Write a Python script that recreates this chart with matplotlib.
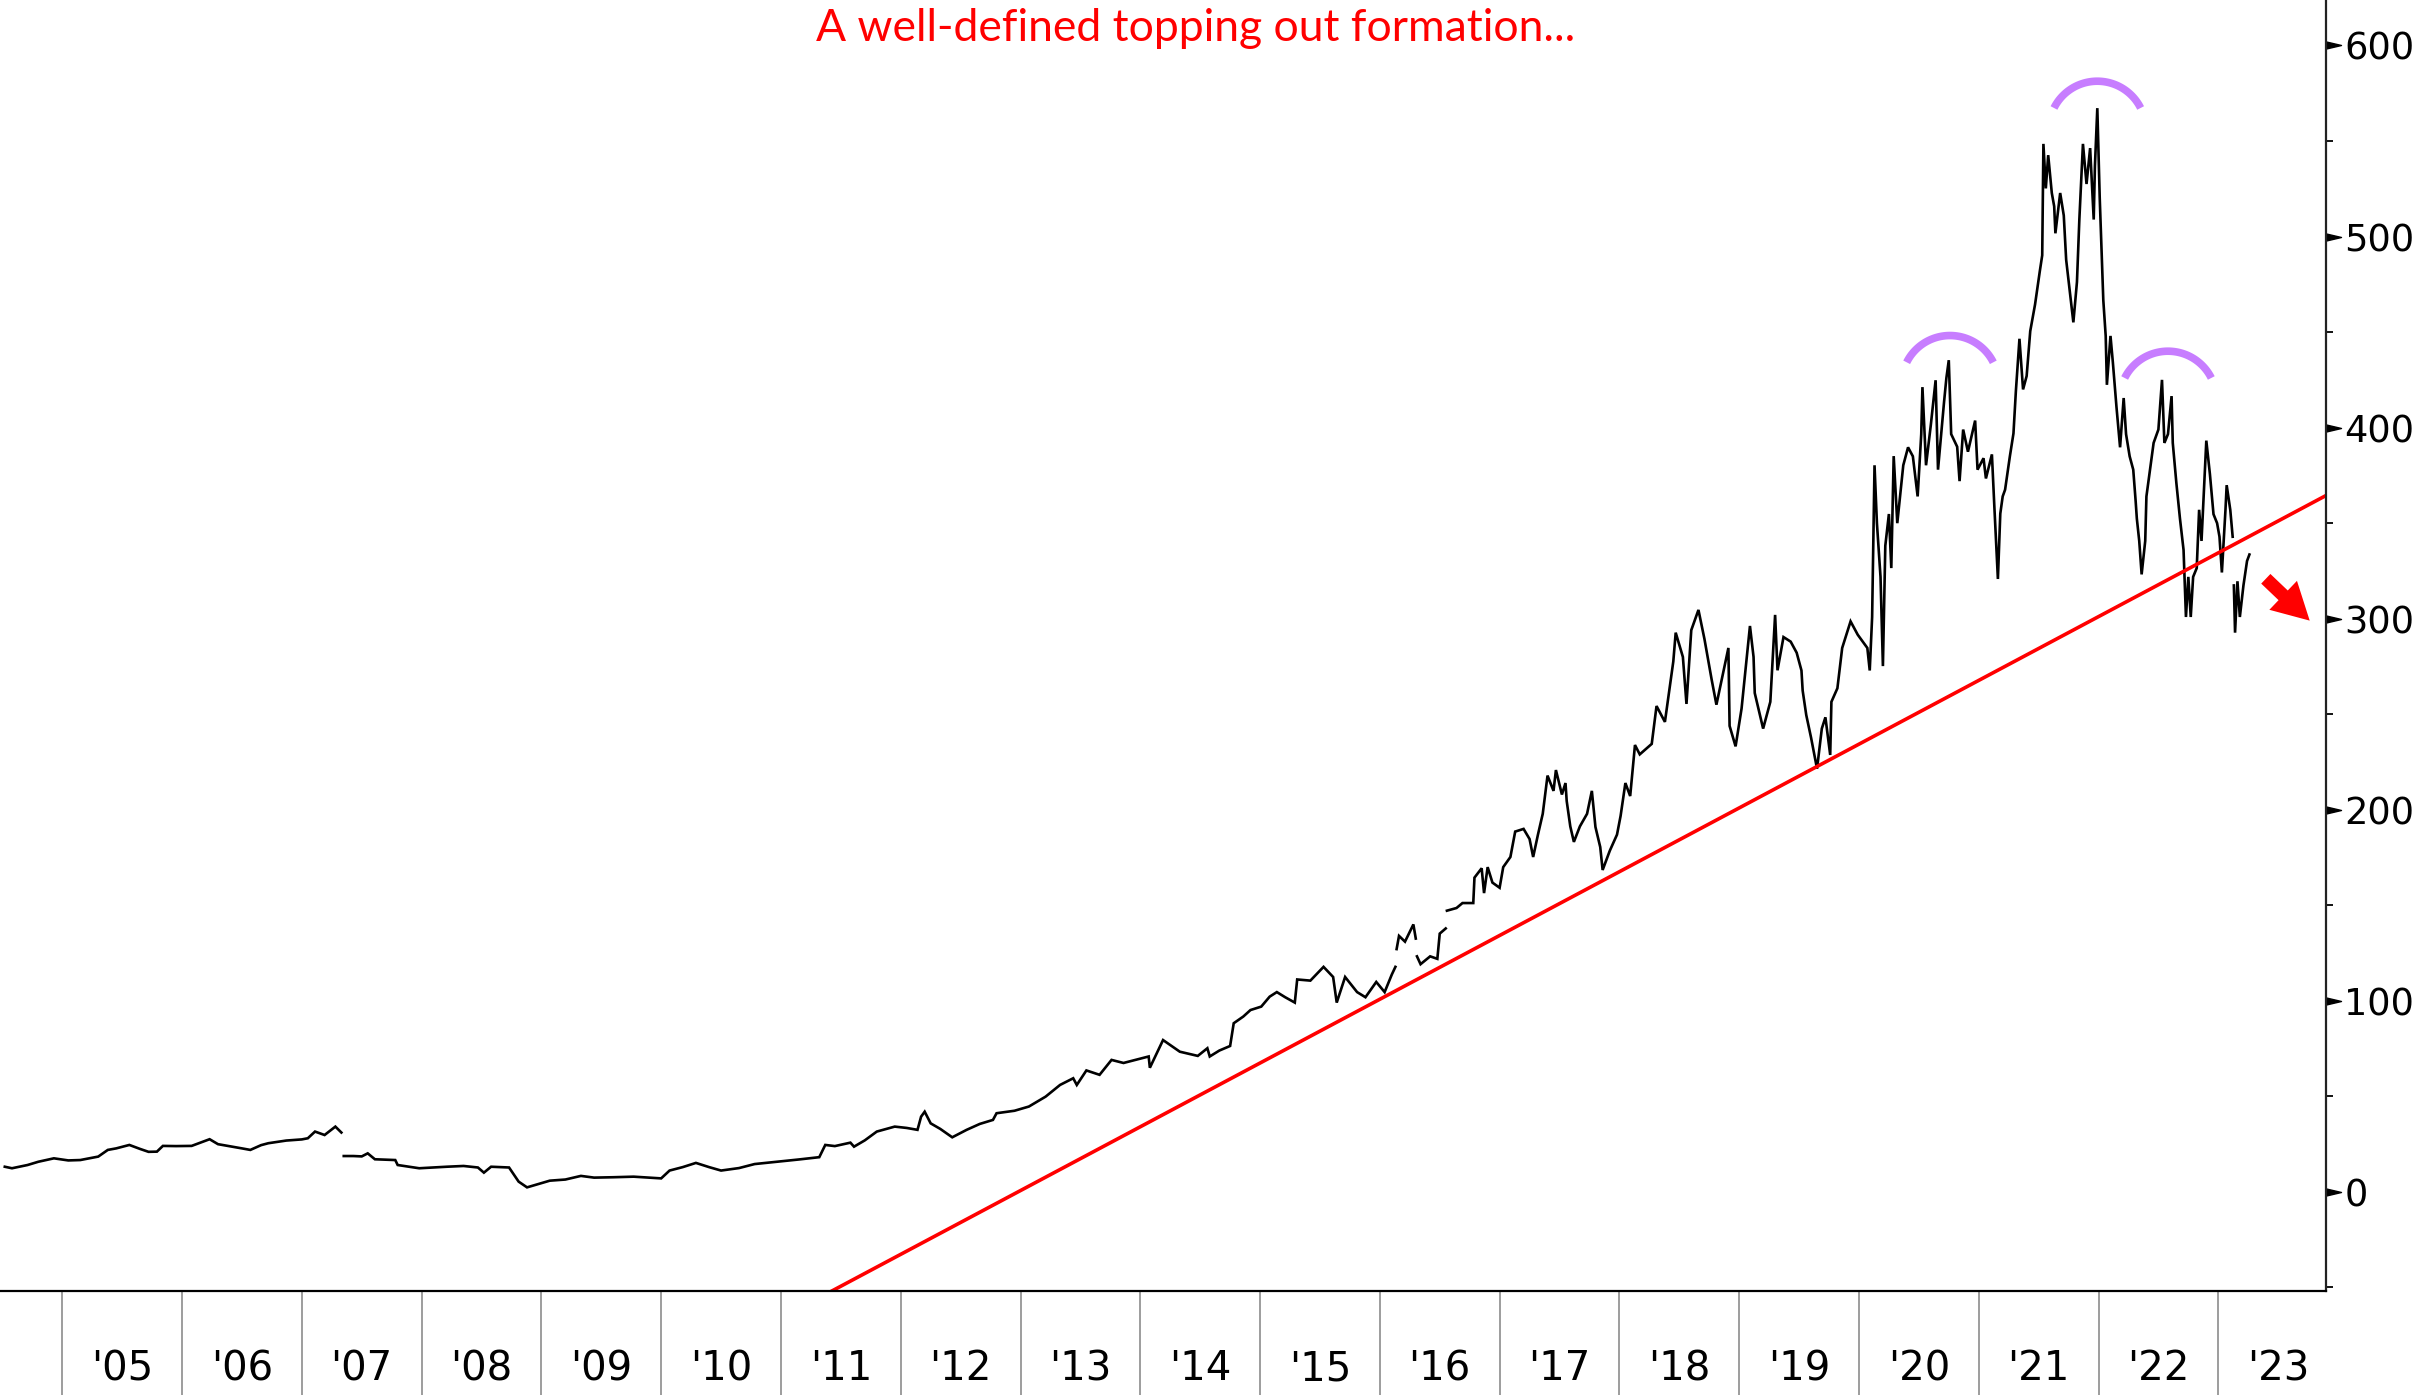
import numpy as np
import matplotlib
matplotlib.use("Agg")
import matplotlib.pyplot as plt
from matplotlib.path import Path
from matplotlib.patches import FancyArrowPatch

nan = np.nan

# price: decimal year / value, nan = break in the line
years = [
    2004.52, 2004.58, 2004.71, 2004.80, 2004.93, 2005.05, 2005.15, 2005.30, 2005.38, 2005.45,
    2005.56, 2005.65, 2005.72, 2005.79, 2005.84, 2005.95, 2006.08, 2006.23, 2006.30, 2006.42,
    2006.50, 2006.57, 2006.66, 2006.72, 2006.87, 2007.00, 2007.05, 2007.11, 2007.19, 2007.28,
    2007.33, 2007.34,
    2007.35, 2007.43, 2007.50, 2007.55, 2007.61, 2007.78, 2007.80, 2007.98, 2008.21, 2008.35,
    2008.47, 2008.52, 2008.58, 2008.73, 2008.81, 2008.88, 2009.07, 2009.20, 2009.33, 2009.44,
    2009.60, 2009.77, 2010.00, 2010.07, 2010.18, 2010.29, 2010.40, 2010.50, 2010.65, 2010.78,
    2010.98, 2011.15, 2011.32, 2011.37, 2011.45, 2011.58, 2011.61, 2011.70, 2011.80, 2011.95,
    2012.05, 2012.14, 2012.17, 2012.20, 2012.25, 2012.33, 2012.43, 2012.55, 2012.66, 2012.77,
    2012.80, 2012.95, 2013.07, 2013.21, 2013.33, 2013.44, 2013.47, 2013.55, 2013.66, 2013.76,
    2013.86, 2013.96, 2014.07, 2014.08, 2014.19, 2014.27, 2014.33, 2014.48, 2014.56, 2014.58,
    2014.66, 2014.75, 2014.78, 2014.86, 2014.92, 2015.01, 2015.08, 2015.14, 2015.21, 2015.29,
    2015.31, 2015.42, 2015.53, 2015.61, 2015.64, 2015.71, 2015.81, 2015.88, 2015.97, 2016.04,
    2016.10, 2016.13, 2016.135,
    2016.14, 2016.16, 2016.21, 2016.28, 2016.30, 2016.305,
    2016.31, 2016.34, 2016.42, 2016.48, 2016.50, 2016.55, 2016.555,
    2016.56, 2016.64, 2016.69, 2016.78, 2016.79, 2016.85, 2016.87, 2016.90, 2016.94, 2017.00,
    2017.03, 2017.09, 2017.13, 2017.20, 2017.25, 2017.28, 2017.32, 2017.36, 2017.40, 2017.45,
    2017.47, 2017.52, 2017.55, 2017.56, 2017.59, 2017.62, 2017.67, 2017.73, 2017.77, 2017.80,
    2017.84, 2017.86, 2017.92, 2017.98, 2018.01, 2018.05, 2018.09, 2018.13, 2018.17, 2018.27,
    2018.31, 2018.38, 2018.45, 2018.47, 2018.53, 2018.56, 2018.60, 2018.66, 2018.71, 2018.77,
    2018.81, 2018.87, 2018.91, 2018.92, 2018.97, 2019.02, 2019.09, 2019.12, 2019.13, 2019.20,
    2019.26, 2019.30, 2019.32, 2019.37, 2019.43, 2019.48, 2019.52, 2019.53, 2019.56, 2019.60,
    2019.65, 2019.69, 2019.72, 2019.76, 2019.77, 2019.82, 2019.86, 2019.93, 2019.99, 2020.07,
    2020.09, 2020.11, 2020.13, 2020.15, 2020.18, 2020.20, 2020.22, 2020.25, 2020.27, 2020.29,
    2020.32, 2020.37, 2020.41, 2020.45, 2020.49, 2020.52, 2020.53, 2020.56, 2020.60, 2020.64,
    2020.66, 2020.71, 2020.73, 2020.75, 2020.77, 2020.82, 2020.84, 2020.87, 2020.91, 2020.97,
    2020.99, 2021.04, 2021.06, 2021.11, 2021.13, 2021.16, 2021.18, 2021.20, 2021.22, 2021.26,
    2021.29, 2021.31, 2021.34, 2021.37, 2021.40, 2021.43, 2021.47, 2021.51, 2021.53, 2021.54,
    2021.56, 2021.58, 2021.61, 2021.63, 2021.64, 2021.68, 2021.71, 2021.73, 2021.76, 2021.79,
    2021.82, 2021.84, 2021.87, 2021.90, 2021.93, 2021.96, 2021.97, 2021.99, 2022.01, 2022.03,
    2022.04, 2022.06, 2022.07, 2022.10, 2022.12, 2022.15, 2022.18, 2022.21, 2022.23, 2022.26,
    2022.29, 2022.31, 2022.32, 2022.34, 2022.36, 2022.39, 2022.40, 2022.43, 2022.46, 2022.50,
    2022.53, 2022.55, 2022.58, 2022.61, 2022.62, 2022.65, 2022.68, 2022.71, 2022.73, 2022.75,
    2022.77, 2022.79, 2022.82, 2022.84, 2022.86, 2022.90, 2022.93, 2022.96, 2022.99, 2023.01,
    2023.03, 2023.06, 2023.07, 2023.10, 2023.12, 2023.125,
    2023.13, 2023.14, 2023.16, 2023.18, 2023.21, 2023.24, 2023.26,
]
prices = [
    13.2, 12.4, 14.1, 15.8, 17.6, 16.5, 16.7, 18.5, 22.0, 22.8,
    24.6, 22.5, 21.0, 21.1, 24.1, 24.0, 24.1, 27.6, 25.0, 23.7,
    22.8, 22.0, 24.5, 25.5, 26.9, 27.5, 28.1, 31.6, 29.8, 34.2,
    31.1, nan,
    18.8, 18.8, 18.6, 20.2, 17.1, 16.7, 14.1, 12.4, 13.2, 13.6,
    12.8, 10.1, 13.2, 12.8, 5.4, 2.4, 5.9, 6.5, 8.4, 7.5,
    7.7, 8.0, 7.1, 11.2, 13.0, 15.2, 13.0, 11.2, 12.5, 14.6,
    15.9, 17.0, 18.2, 24.6, 24.0, 25.8, 23.7, 27.0, 31.6, 34.2,
    33.5, 32.5, 39.4, 42.0, 35.9, 33.0, 28.6, 32.5, 35.6, 37.7,
    41.2, 42.5, 44.7, 49.9, 56.0, 59.5, 56.0, 63.6, 61.3, 69.1,
    67.5, 69.1, 70.9, 65.0, 79.5, 76.0, 73.4, 71.2, 75.2, 70.9,
    74.0, 76.4, 88.3, 91.8, 95.2, 97.0, 102.2, 104.6, 101.9, 99.1,
    111.2, 110.6, 117.8, 112.5, 99.1, 112.5, 104.6, 101.9, 109.9, 104.6,
    113.8, 117.8, nan,
    127.1, 134.0, 131.0, 140.0, 132.6, nan,
    123.3, 119.2, 123.3, 122.0, 135.2, 137.9, nan,
    147.2, 148.6, 151.2, 151.2, 164.5, 169.4, 156.4, 170.0, 161.9, 159.2,
    170.0, 175.3, 188.6, 190.0, 184.7, 175.3, 187.0, 197.9, 217.9, 209.9,
    220.8, 208.0, 214.0, 204.6, 191.3, 183.2, 191.3, 197.9, 209.9, 191.0,
    180.5, 168.5, 178.6, 187.0, 196.8, 214.0, 207.2, 233.9, 229.0, 234.5,
    254.3, 246.0, 277.6, 292.7, 280.0, 255.4, 294.0, 304.6, 289.4, 268.2,
    255.0, 272.9, 284.7, 243.9, 233.2, 253.0, 296.2, 280.0, 261.1, 242.5,
    256.5, 302.0, 273.0, 290.4, 288.0, 282.2, 272.9, 262.4, 249.6, 237.8,
    221.5, 242.5, 248.4, 228.7, 256.5, 263.6, 284.7, 298.6, 291.6, 284.7,
    272.9, 300.9, 380.3, 350.0, 321.9, 275.2, 338.2, 354.8, 326.5, 385.1,
    350.0, 380.3, 389.7, 385.0, 364.0, 396.6, 421.2, 380.3, 401.4, 424.8,
    378.0, 413.1, 426.0, 435.3, 396.6, 390.0, 372.0, 399.0, 387.4, 403.7,
    378.0, 384.0, 373.4, 386.0, 359.2, 320.8, 355.0, 364.0, 367.5, 385.0,
    397.0, 419.0, 446.5, 420.0, 427.0, 450.5, 464.4, 481.9, 490.2, 548.5,
    525.2, 542.6, 522.8, 515.8, 501.7, 522.8, 511.0, 487.8, 471.5, 455.1,
    476.2, 508.9, 548.5, 527.5, 546.3, 508.9, 536.9, 567.2, 520.5, 485.6,
    466.7, 448.0, 422.4, 448.0, 434.0, 410.8, 389.7, 415.5, 396.6, 385.0,
    378.0, 361.6, 352.4, 340.7, 323.2, 340.7, 364.0, 378.0, 392.0, 399.0,
    425.0, 392.0, 396.6, 416.5, 392.0, 371.0, 352.4, 336.0, 300.9, 321.9,
    300.9, 321.9, 326.5, 357.0, 340.7, 393.2, 375.7, 354.7, 350.0, 342.9,
    324.2, 357.0, 369.9, 357.0, 342.9, nan,
    317.4, 292.7, 319.6, 300.9, 317.4, 330.2, 333.6,
]

year_ticks = list(range(2005, 2024))
year_labels = ["'05", "'06", "'07", "'08", "'09", "'10", "'11", "'12", "'13", "'14",
               "'15", "'16", "'17", "'18", "'19", "'20", "'21", "'22", "'23"]
y_major = [0, 100, 200, 300, 400, 500, 600]
y_minor = [-50, 50, 150, 250, 350, 450, 550]

# support line
trend_x = [2011.42, 2023.9]
trend_y = [-52, 364.5]

# arcs over the three tops: centre year, top value
arc_x = [2020.76, 2021.99, 2022.58]
arc_top = [448.2, 581.3, 440.0]
arc_rx, arc_ry = 0.404, 25.3

arrow_start = (2023.38, 321.9)
arrow_end = (2023.78, 298.0)

fig = plt.figure(figsize=(24.22, 13.95), dpi=100)
ax = fig.add_axes([0.0, 0.0746, 0.9604, 0.9254])

ax.plot(years, prices, color="black", lw=1.9, solid_joinstyle="miter")
ax.plot(trend_x, trend_y, color="red", lw=2.6)

t = np.radians(np.linspace(26.5, 153.5, 80))
for cx, top in zip(arc_x, arc_top):
    ax.plot(cx + arc_rx * np.cos(t), top - arc_ry + arc_ry * np.sin(t),
            color="#c77dff", lw=5.5, solid_capstyle="butt")

arr = FancyArrowPatch(arrow_start, arrow_end,
                      arrowstyle="simple,head_length=0.55,head_width=0.6,tail_width=0.2",
                      mutation_scale=48, color="red", lw=0)
ax.add_patch(arr)

ax.set_xlim(2004.48, 2023.9)
ax.set_ylim(-51.8, 623.8)

for s in ["top", "left"]:
    ax.spines[s].set_visible(False)
ax.spines["bottom"].set_linewidth(1.6)
ax.spines["right"].set_linewidth(1.6)
ax.spines["right"].set_color("#222222")

# x axis: long grey separators at year starts, labels mid-year
ax.set_xticks(year_ticks)
ax.set_xticklabels([])
ax.set_xticks([y + 0.5 for y in year_ticks], minor=True)
ax.set_xticklabels(year_labels, minor=True, fontsize=29, family="DejaVu Sans")
ax.tick_params(axis="x", which="major", direction="out", length=76, width=1.2, color="#8c8c8c")
ax.tick_params(axis="x", which="minor", length=0, pad=42)

# y axis on the right with triangle markers at major ticks
ax.yaxis.tick_right()
ax.set_yticks(y_major)
ax.set_yticks(y_minor, minor=True)
ax.tick_params(axis="y", which="major", length=0, pad=13, labelsize=26.5)
ax.tick_params(axis="y", which="minor", direction="out", length=5, width=1.3, color="black")
tri = Path([(0, -0.47), (0, 0.47), (2, 0), (0, -0.47)],
           [Path.MOVETO, Path.LINETO, Path.LINETO, Path.CLOSEPOLY])
ax.plot(np.ones(len(y_major)), y_major, transform=ax.get_yaxis_transform(),
        marker=tri, ms=21.6, color="black", ls="none", clip_on=False)

fig.text(0.4938, 0.9705, "A well-defined topping out formation...", color="red",
         fontsize=32, family=["Lato", "DejaVu Sans"], ha="center", va="baseline")

fig.savefig("out.png", dpi=100)
